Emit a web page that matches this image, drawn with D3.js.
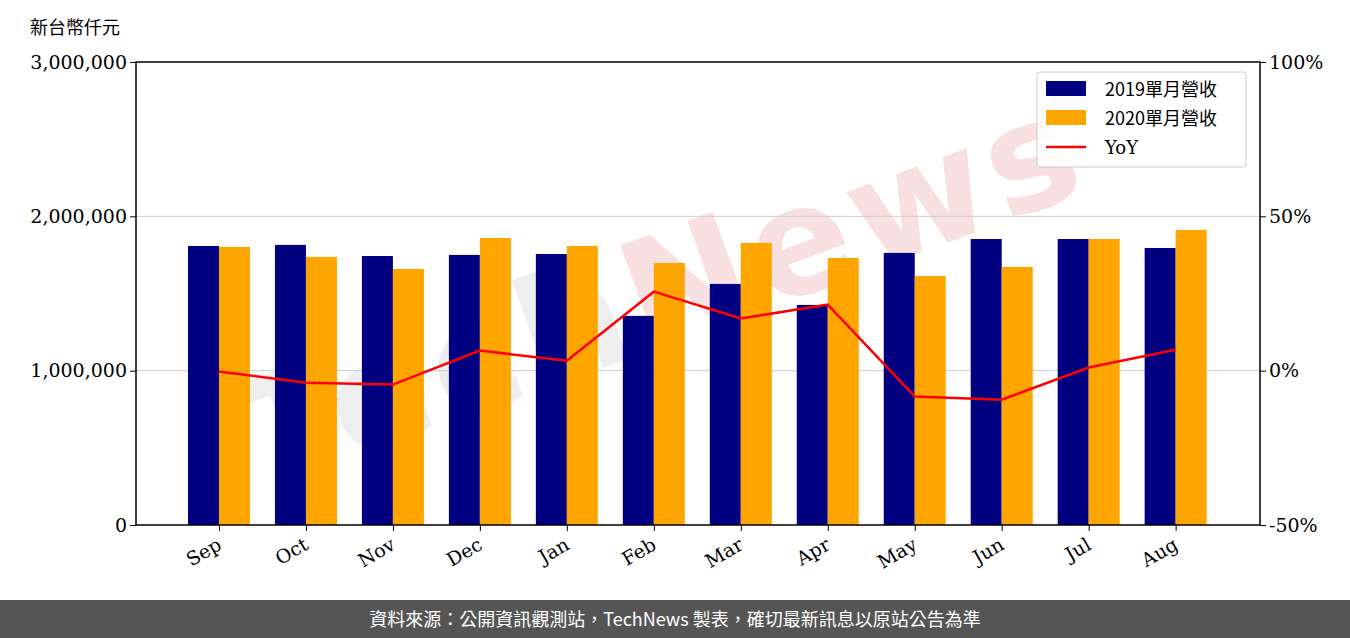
<!DOCTYPE html><html><head><meta charset="utf-8"><script src="https://cdn.jsdelivr.net/npm/d3@7"></script>
<style>body{margin:0;background:#fff}svg{display:block}</style></head><body><svg id="c" width="1350" height="638"></svg>
<script>
const categories=["Sep","Oct","Nov","Dec","Jan","Feb","Mar","Apr","May","Jun","Jul","Aug"];
const rev2019=[1808000,1815000,1743000,1750000,1756000,1355000,1562000,1426000,1763000,1853000,1853000,1795000];
const rev2020=[1802000,1737000,1659000,1860000,1808000,1698000,1828000,1730000,1614000,1672000,1853000,1912000];
const yoy=[-0.3,-3.9,-4.5,6.5,3.2,25.6,16.9,21.4,-8.4,-9.4,1.0,6.8];
const leftTicks=[0,1000000,2000000,3000000];
const rightTicks=[-50,0,50,100];
const svg=d3.select("#c");
const L=136,R=1260,T=62,B=525;
const x=d3.scaleLinear().domain([-0.954,11.97]).range([L,R]);
const y=d3.scaleLinear().domain([0,3000000]).range([B,T]);
const y2=d3.scaleLinear().domain([-50,100]).range([B,T]);
const serif="'DejaVu Serif',serif", cjk="'Noto Sans CJK TC',sans-serif";
// watermark
const wm=svg.append("text").attr("transform","translate(680,340) rotate(-20)").attr("text-anchor","middle")
 .attr("font-family","'DejaVu Sans',sans-serif").attr("font-weight","bold").attr("font-size",150).attr("letter-spacing",6).attr("fill","#e4e4e4").attr("opacity",0.6);
wm.append("tspan").text("Tech");wm.append("tspan").attr("fill","#f6cccc").text("News");
// grid
svg.append("g").selectAll("line").data(leftTicks.slice(1,3)).join("line").attr("x1",L).attr("x2",R).attr("y1",d=>y(d)).attr("y2",d=>y(d)).attr("stroke","#ccc");
const bw=31;
svg.append("g").selectAll("rect").data(rev2019).join("rect").attr("x",(d,i)=>x(i)-bw).attr("width",bw).attr("y",d=>y(d)).attr("height",d=>B-y(d)).attr("fill","#000080");
svg.append("g").selectAll("rect").data(rev2020).join("rect").attr("x",(d,i)=>x(i)).attr("width",bw).attr("y",d=>y(d)).attr("height",d=>B-y(d)).attr("fill","#ffa500");
svg.append("path").datum(yoy).attr("d",d3.line().x((d,i)=>x(i)).y(d=>y2(d))).attr("fill","none").attr("stroke","red").attr("stroke-width",2.5);
svg.append("rect").attr("x",L).attr("y",T).attr("width",R-L).attr("height",B-T).attr("fill","none").attr("stroke","#000").attr("stroke-width",1.5);
const la=svg.append("g").attr("transform",`translate(${L},0)`).call(d3.axisLeft(y).tickValues(leftTicks).tickFormat(d3.format(",")).tickSize(6));
const ra=svg.append("g").attr("transform",`translate(${R},0)`).call(d3.axisRight(y2).tickValues(rightTicks).tickFormat(d=>d+"%").tickSize(6));
const xa=svg.append("g").attr("transform",`translate(0,${B})`).call(d3.axisBottom(x).tickValues(d3.range(12)).tickFormat(i=>categories[i]).tickSize(6));
[la,ra,xa].forEach(g=>{g.select(".domain").remove();g.selectAll("text").attr("font-family",serif).attr("font-size",19).attr("fill","#000");});
xa.selectAll("text").attr("text-anchor","end").attr("transform","translate(-8,4) rotate(-30)");
svg.append("text").attr("x",30).attr("y",34).attr("font-family",cjk).attr("font-size",18).text("新台幣仟元");
// legend
const lg=svg.append("g").attr("transform","translate(1037,72)");
lg.append("rect").attr("width",209).attr("height",95).attr("rx",3).attr("fill","#fff").attr("fill-opacity",0.85).attr("stroke","#ccc");
[["2019單月營收","#000080"],["2020單月營收","#ffa500"],["YoY","red"]].forEach((e,i)=>{
 const yy=17+i*29;
 if(i<2)lg.append("rect").attr("x",9).attr("y",yy-8).attr("width",40).attr("height",15).attr("fill",e[1]);
 else lg.append("line").attr("x1",9).attr("x2",49).attr("y1",yy).attr("y2",yy).attr("stroke",e[1]).attr("stroke-width",2.5);
 lg.append("text").attr("x",68).attr("y",yy+7).attr("font-family",i<2?cjk:serif).attr("font-size",18).text(e[0]);
});
svg.append("rect").attr("x",0).attr("y",600).attr("width",1350).attr("height",38).attr("fill","#555");
svg.append("text").attr("x",675).attr("y",626).attr("text-anchor","middle").attr("fill","#fff").attr("font-family",cjk).attr("font-size",18).text("資料來源：公開資訊觀測站，TechNews 製表，確切最新訊息以原站公告為準");
</script></body></html>
